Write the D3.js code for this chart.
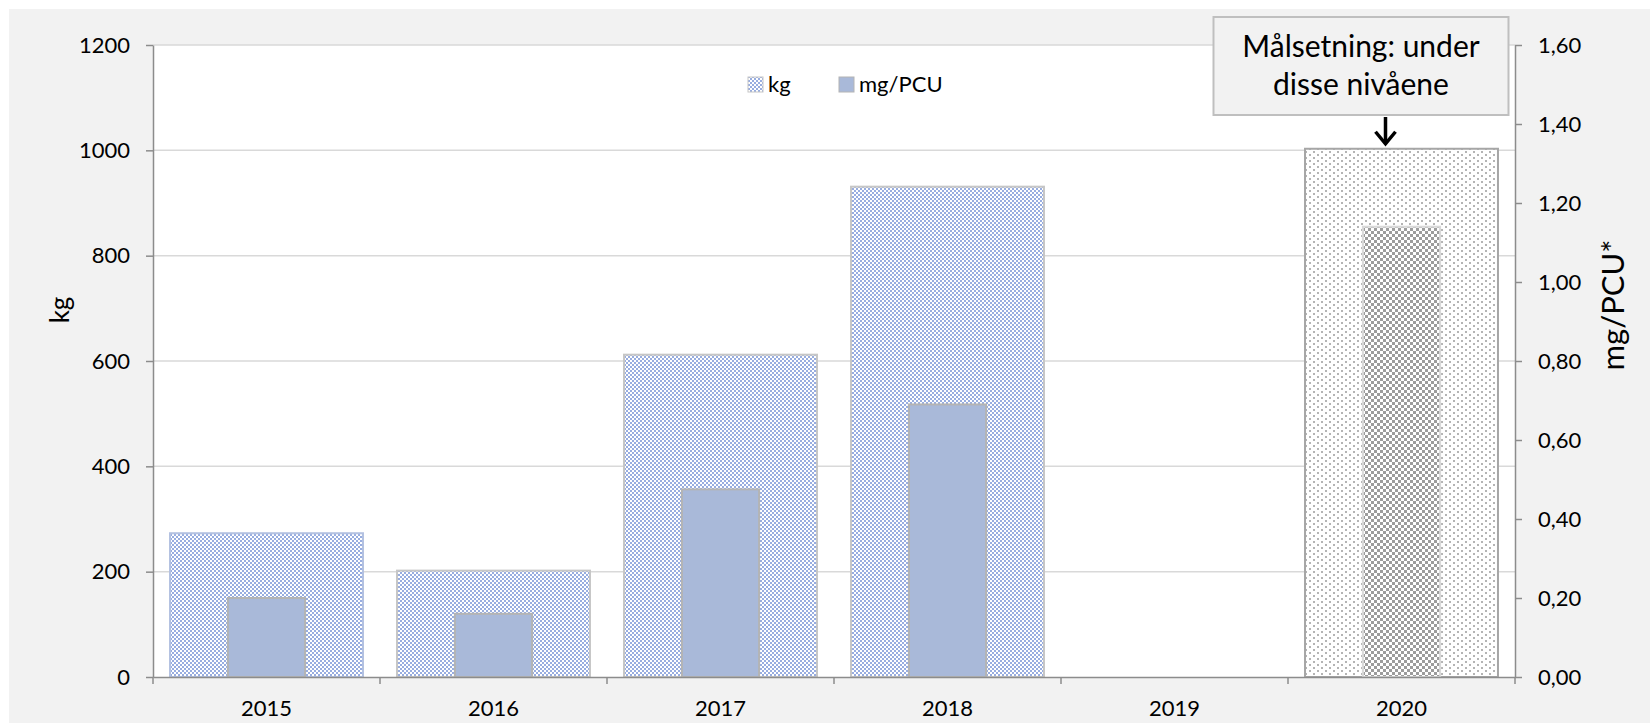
<!DOCTYPE html>
<html><head><meta charset="utf-8">
<script src="https://cdn.jsdelivr.net/npm/d3@7"></script>
<style>
body{margin:0;background:#fff}
svg{display:block}
text{font-family:Lato,'Open Sans',sans-serif;fill:#000}
</style>
</head><body>
<svg id="c" width="1650" height="723"></svg>
<script>
// ---- data ----
const years = ["2015", "2016", "2017", "2018", "2019", "2020"];
const kgValues = [273, 202, 612, 931, null, 1003];
const mgValues = [0.20, 0.16, 0.475, 0.69, null, 1.14];
const kgTicks = [0, 200, 400, 600, 800, 1000, 1200];
const mgTicks = [0, 0.2, 0.4, 0.6, 0.8, 1.0, 1.2, 1.4, 1.6];
const targetYear = "2020";
const legendLabels = ["kg", "mg/PCU"];
const annotationLines = ["Målsetning: under", "disse nivåene"];
const leftTitle = "kg";
const rightTitle = "mg/PCU*";

// ---- layout ----
const W = 1650, H = 723;
const plot = {left: 153, right: 1515, top: 45, bottom: 677};
const svg = d3.select("#c");

const defs = svg.append("defs");
// blue checker for kg bars
const pk = defs.append("pattern").attr("id", "kgPat").attr("patternUnits", "userSpaceOnUse")
  .attr("width", 4).attr("height", 4);
pk.append("rect").attr("width", 4).attr("height", 4).attr("fill", "#fff");
pk.append("rect").attr("width", 2).attr("height", 2).attr("fill", "#98ade0");
pk.append("rect").attr("x", 2).attr("y", 2).attr("width", 2).attr("height", 2).attr("fill", "#98ade0");
// dotted pattern for target kg
const pd = defs.append("pattern").attr("id", "dotPat").attr("patternUnits", "userSpaceOnUse")
  .attr("width", 8).attr("height", 6);
pd.append("rect").attr("width", 8).attr("height", 6).attr("fill", "#fff");
pd.append("rect").attr("x", 1).attr("y", 1).attr("width", 2).attr("height", 2).attr("fill", "#b4b4b4");
pd.append("rect").attr("x", 5).attr("y", 4).attr("width", 2).attr("height", 2).attr("fill", "#b4b4b4");
// gray checker for target mg
const pg = defs.append("pattern").attr("id", "grayPat").attr("patternUnits", "userSpaceOnUse")
  .attr("width", 6).attr("height", 6);
pg.append("rect").attr("width", 6).attr("height", 6).attr("fill", "#fff");
pg.append("rect").attr("width", 3).attr("height", 3).attr("fill", "#9c9c9c");
pg.append("rect").attr("x", 3).attr("y", 3).attr("width", 3).attr("height", 3).attr("fill", "#9c9c9c");

// backgrounds
svg.append("rect").attr("width", W).attr("height", H).attr("fill", "#fff");
svg.append("rect").attr("x", 9).attr("y", 9).attr("width", W - 9).attr("height", H - 9).attr("fill", "#f2f2f2");
svg.append("rect").attr("x", plot.left).attr("y", plot.top)
  .attr("width", plot.right - plot.left).attr("height", plot.bottom - plot.top).attr("fill", "#fff");

// scales
const x = d3.scaleBand().domain(years).range([plot.left, plot.right]).padding(0);
const yKg = d3.scaleLinear().domain([0, 1200]).range([plot.bottom, plot.top]);
const yMg = d3.scaleLinear().domain([0, 1.6]).range([plot.bottom, plot.top]);
const commaFmt = d3.formatLocale({decimal: ",", thousands: " ", grouping: [3], currency: ["", ""]}).format(".2f");

// gridlines
svg.append("g").selectAll("line").data(kgTicks.filter(d => d > 0)).join("line")
  .attr("x1", plot.left).attr("x2", plot.right)
  .attr("y1", d => yKg(d)).attr("y2", d => yKg(d))
  .attr("stroke", "#d9d9d9").attr("stroke-width", 1.5);

// bars
const rows = years.map((y, i) => ({year: y, kg: kgValues[i], mg: mgValues[i]}));
const kgW = x.bandwidth() * 0.85, mgW = x.bandwidth() * 0.34;
svg.append("g").selectAll("rect").data(rows.filter(d => d.kg != null)).join("rect")
  .attr("x", d => x(d.year) + (x.bandwidth() - kgW) / 2)
  .attr("y", d => yKg(d.kg))
  .attr("width", kgW)
  .attr("height", d => yKg(0) - yKg(d.kg))
  .attr("fill", d => d.year === targetYear ? "url(#dotPat)" : "url(#kgPat)")
  .attr("stroke", d => d.year === targetYear ? "#a6a6a6" : (d.year === "2015" ? "#b3c1e1" : "#c6c6c6"))
  .attr("stroke-width", 2);
svg.append("g").selectAll("rect").data(rows.filter(d => d.mg != null)).join("rect")
  .attr("x", d => x(d.year) + (x.bandwidth() - mgW) / 2)
  .attr("y", d => yMg(d.mg))
  .attr("width", mgW)
  .attr("height", d => yMg(0) - yMg(d.mg))
  .attr("fill", d => d.year === targetYear ? "url(#grayPat)" : "#a9b9d9")
  .attr("stroke", d => d.year === targetYear ? "#d9d9d9" : "#b4b4b4")
  .attr("stroke-width", 2);

// axes
const axisColor = "#8c8c8c";
function styleAxis(g) {
  g.select(".domain").attr("stroke", axisColor).attr("stroke-width", 1.5);
  g.selectAll(".tick line").attr("stroke", axisColor).attr("stroke-width", 1.5);
  g.selectAll(".tick text").attr("font-size", 22).attr("font-family", "Lato,'Open Sans',sans-serif").attr("fill", "#000");
}
svg.append("g").attr("transform", `translate(${plot.left},0)`)
  .call(d3.axisLeft(yKg).tickValues(kgTicks).tickSize(7).tickPadding(16).tickSizeOuter(0).tickFormat(d3.format("d")))
  .call(styleAxis);
svg.append("g").attr("transform", `translate(${plot.right},0)`)
  .call(d3.axisRight(yMg).tickValues(mgTicks).tickSize(7).tickPadding(16).tickSizeOuter(0).tickFormat(commaFmt))
  .call(styleAxis);
const xg = svg.append("g").attr("transform", `translate(0,${plot.bottom})`)
  .call(d3.axisBottom(x).tickSize(0).tickPadding(23).tickSizeOuter(0))
  .call(styleAxis);
// category boundary ticks
xg.selectAll(".bt").data(d3.range(years.length + 1)).join("line").attr("class", "bt")
  .attr("x1", i => plot.left + i * x.step()).attr("x2", i => plot.left + i * x.step())
  .attr("y1", 0).attr("y2", 7).attr("stroke", axisColor).attr("stroke-width", 1.5);

// axis titles
svg.append("text").attr("transform", "translate(69,310) rotate(-90)")
  .attr("text-anchor", "middle").attr("font-size", 26).text(leftTitle);
svg.append("text").attr("transform", "translate(1624,305) rotate(-90)")
  .attr("text-anchor", "middle").attr("font-size", 31).text(rightTitle);

// legend
const lg = svg.append("g");
const legendX = [748, 839];
lg.selectAll("rect").data(legendLabels).join("rect")
  .attr("x", (d, i) => legendX[i]).attr("y", 77).attr("width", 15).attr("height", 15)
  .attr("fill", (d, i) => i === 0 ? "url(#kgPat)" : "#a9b9d9")
  .attr("stroke", (d, i) => i === 0 ? "#c6c6c6" : "#b4b4b4").attr("stroke-width", 1);
lg.selectAll("text").data(legendLabels).join("text")
  .attr("x", (d, i) => legendX[i] + 20).attr("y", 92).attr("font-size", 22).text(d => d);

// annotation
const cx = x(targetYear) + x.bandwidth() / 2;
const boxX = cx - 188, boxW = 295;
svg.append("rect").attr("x", boxX).attr("y", 17).attr("width", boxW).attr("height", 98)
  .attr("fill", "#f2f2f2").attr("stroke", "#bfbfbf").attr("stroke-width", 2);
svg.append("g").selectAll("text").data(annotationLines).join("text")
  .attr("x", boxX + boxW / 2).attr("y", (d, i) => 57 + i * 38)
  .attr("text-anchor", "middle").attr("font-size", 30).text(d => d);
const ax = cx - 16, tipY = yKg(kgValues[years.indexOf(targetYear)]) - 5;
svg.append("line").attr("x1", ax).attr("x2", ax).attr("y1", 117).attr("y2", tipY)
  .attr("stroke", "#000").attr("stroke-width", 3.5);
svg.append("polyline").attr("points", `${ax - 10},${tipY - 12} ${ax},${tipY} ${ax + 10},${tipY - 12}`)
  .attr("fill", "none").attr("stroke", "#000").attr("stroke-width", 3.5);
</script>
</body></html>
